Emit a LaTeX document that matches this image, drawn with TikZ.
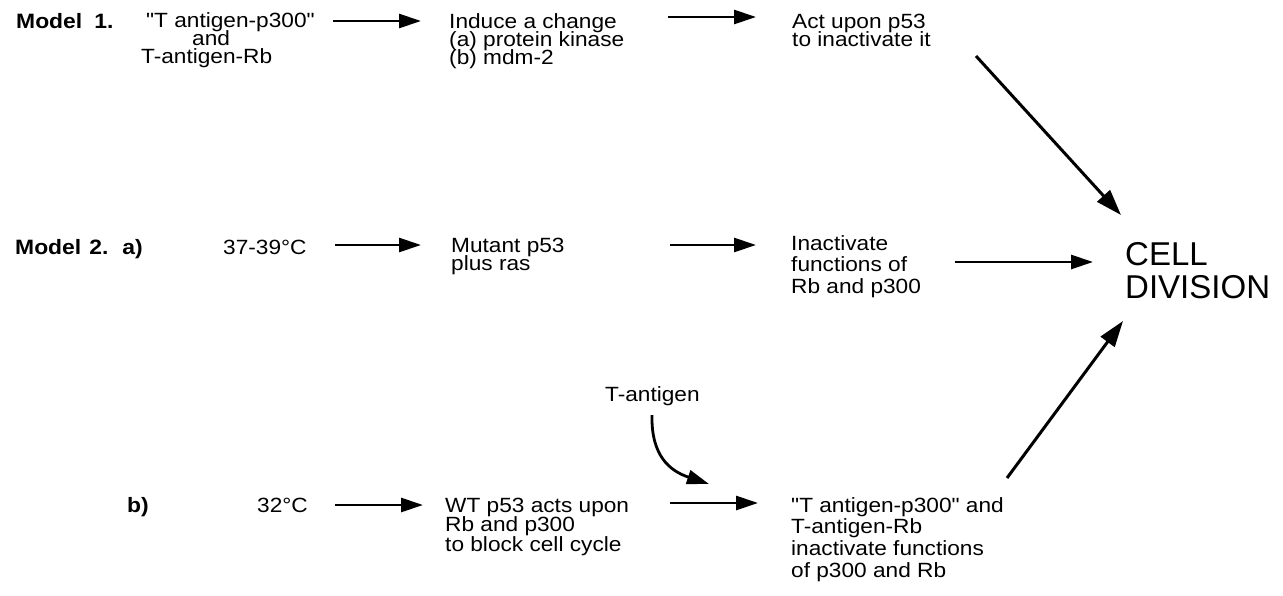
\documentclass[tikz,border=0pt]{standalone}
\usepackage{fontspec}
\setmainfont{Liberation Sans}[Ligatures=TeXOff, FakeStretch=1.1]
\newfontfamily\bigfont{Liberation Sans}
\usetikzlibrary{arrows.meta}
\newcommand\lns[2]{\vtop{\baselineskip=#1\lineskiplimit=-100pt\lineskip=0pt\halign{##\hfil\cr#2\crcr}}}
\begin{document}
\begin{tikzpicture}[x=1pt,y=-1pt,
  txt/.style={inner sep=0pt, anchor=base west, font=\fontsize{20.6}{21}\selectfont},
  hd/.style={txt, font=\fontsize{20.8}{21}\selectfont\bfseries},
  big/.style={inner sep=0pt, anchor=base west, font=\bigfont\fontsize{33}{33}\selectfont},
  arr/.style={line width=2.8pt, -{Triangle[length=22pt,width=14pt]}},
  darr/.style={line width=3pt, -{Triangle[length=26pt,width=17pt]}}]
\useasboundingbox[fill=white] (0,0) rectangle (1283,595);

% Model 1
\node[hd] (m1) at (16,28) {Model\hspace{12pt}1.};
\node[txt] (t1) at (141,27) {\lns{18pt}{\hspace{5pt}"T antigen-p300"\cr\hspace{51pt}and\cr T-antigen-Rb}};
\node[txt] (ind) at (449,28) {\lns{18pt}{Induce a change\cr (a) protein kinase\cr (b) mdm-2}};
\node[txt] (act) at (792,28) {\lns{18pt}{Act upon p53\cr to inactivate it}};

% Model 2a
\node[hd] (m2) at (15,254) {Model\hspace{8pt}2.\hspace{14pt}a)};
\node[txt] (c37) at (223,254) {37-39°C};
\node[txt] (mut) at (451,252) {\lns{18pt}{Mutant p53\cr plus ras}};
\node[txt] (inact) at (791,250) {\lns{21.5pt}{Inactivate\cr functions of\cr Rb and p300}};
\node[big] (cell) at (1125,265) {\lns{33pt}{CELL\cr DIVISION}};

% Model 2b
\node[hd] (bb) at (127,512) {b)};
\node[txt] (c32) at (257,512) {32°C};
\node[txt] (wt) at (445,512) {\lns{19.5pt}{WT p53 acts upon\cr Rb and p300\cr to block cell cycle}};
\node[txt] (tag) at (605,401) {T-antigen};
\node[txt] (tant) at (791,512) {\lns{21.7pt}{"T antigen-p300" and\cr T-antigen-Rb\cr inactivate functions\cr of p300 and Rb}};

% arrow end points
\coordinate (a1s) at (333,21);  \coordinate (a1e) at (421,21);
\coordinate (a2s) at (668,17);  \coordinate (a2e) at (756,17);
\coordinate (d1s) at (976,56);  \coordinate (d1e) at (1121,215);
\coordinate (b1s) at (335,245); \coordinate (b1e) at (421,245);
\coordinate (b2s) at (670,245); \coordinate (b2e) at (756,245);
\coordinate (b3s) at (955,262); \coordinate (b3e) at (1093,262);
\coordinate (c1s) at (335,505); \coordinate (c1e) at (423,505);
\coordinate (c2s) at (670,503); \coordinate (c2e) at (758,503);
\coordinate (d2s) at (1007,478); \coordinate (d2e) at (1123,321);
\coordinate (ts) at (652,415);  \coordinate (te) at (709,484);

\draw[arr] (a1s) -- (a1e);
\draw[arr] (a2s) -- (a2e);
\draw[darr] (d1s) -- (d1e);
\draw[arr] (b1s) -- (b1e);
\draw[arr] (b2s) -- (b2e);
\draw[arr] (b3s) -- (b3e);
\draw[arr] (c1s) -- (c1e);
\draw[arr] (c2s) -- (c2e);
\draw[darr] (d2s) -- (d2e);
\draw[arr] (ts) .. controls (651,456) and (670,471) .. (te);
\end{tikzpicture}
\end{document}
